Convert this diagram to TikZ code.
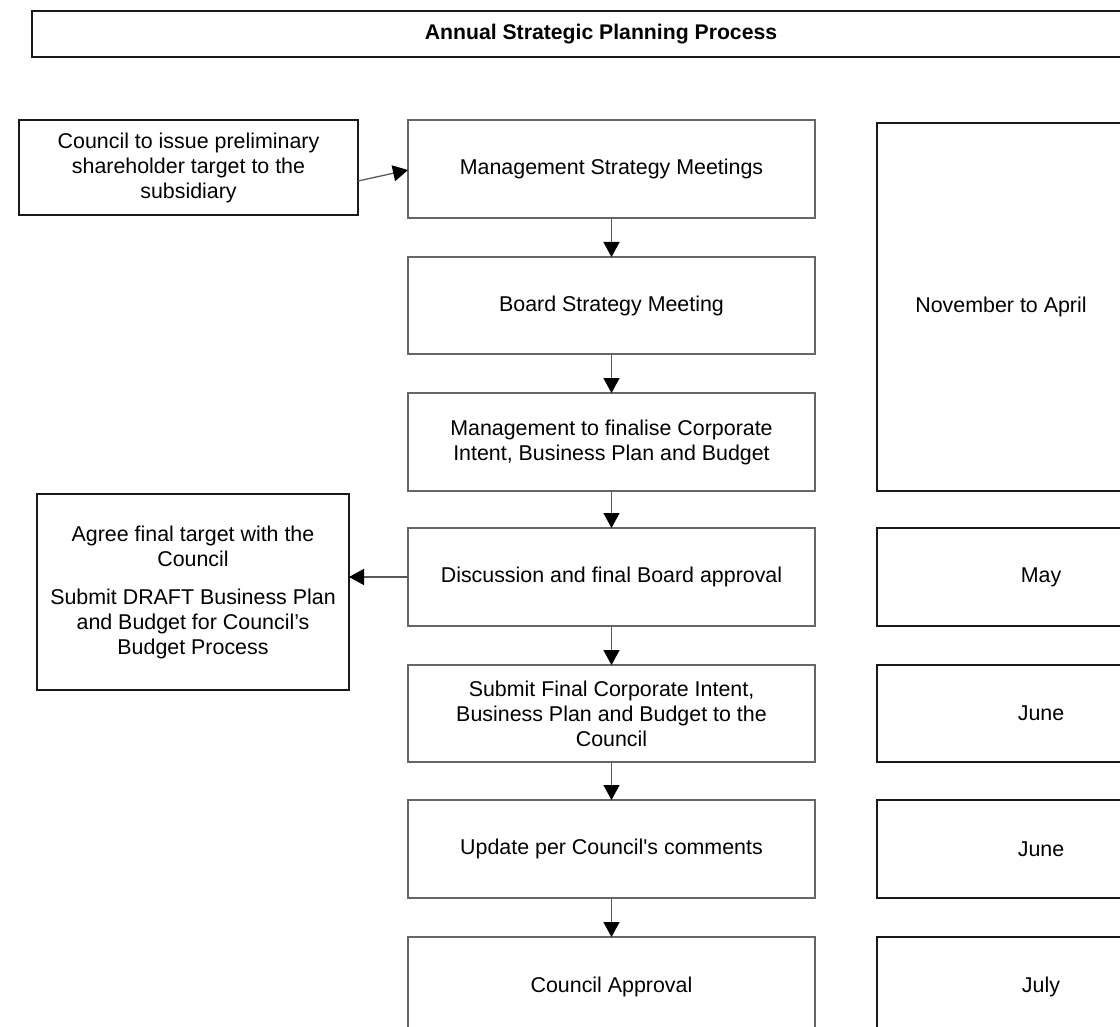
\documentclass[tikz,border=0pt]{standalone}
\usepackage{fontspec}
\setmainfont{Liberation Sans}
\usetikzlibrary{arrows.meta,calc}
\begin{document}
\begin{tikzpicture}[x=1pt,y=-1pt,
  box/.style={draw=black!90,line width=1.3pt,rectangle,inner sep=0pt,outer sep=0pt,align=center,
    font=\fontsize{21.4}{25}\selectfont},
  mbox/.style={box,draw=black!60,minimum width=407pt},
  rbox/.style={box,minimum width=328pt},
  arr/.style={draw=black!65,line width=1.3pt,-{Triangle[length=15pt,width=16pt,color=black]}}]
\useasboundingbox (0,0) rectangle (1120,1027);
\clip (0,0) rectangle (1120,1027);
\node[box,minimum width=1138pt,minimum height=46pt,font=\fontsize{21.2}{26}\selectfont\bfseries] (title) at (601,34) {Annual Strategic Planning Process};
\node[box,minimum width=339pt,minimum height=95pt] (lt) at (188.5,167.5) {Council to issue preliminary\\shareholder target to the\\subsidiary};
\node[mbox,minimum height=98pt] (m1) at (611.5,169) {Management Strategy Meetings};
\node[mbox,minimum height=97pt] (m2) at (611.5,305.5) {Board Strategy Meeting};
\node[mbox,minimum height=98pt] (m3) at (611.5,442) {Management to finalise Corporate\\Intent, Business Plan and Budget};
\node[mbox,minimum height=98pt] (m4) at (611.5,577) {Discussion and final Board approval};
\node[mbox,minimum height=97pt] (m5) at (611.5,713.5) {Submit Final Corporate Intent,\\Business Plan and Budget to the\\Council};
\node[mbox,minimum height=98pt] (m6) at (611.5,849) {Update per Council\textquotesingle s comments};
\node[mbox,minimum height=100pt] (m7) at (611.5,987) {Council Approval};
\node[box,minimum width=312pt,minimum height=196pt] (ag) at (193,592) {Agree final target with the\\Council\\[13pt]Submit DRAFT Business Plan\\and Budget for Council’s\\Budget Process};
\node[box,minimum width=248pt,minimum height=368pt] (r1) at (1001,307) {November to April};
\node[rbox,minimum height=98pt] (r2) at (1041,577) {May};
\node[rbox,minimum height=97pt] (r3) at (1041,713.5) {June};
\node[rbox,minimum height=98pt] (r4) at (1041,849) {June};
\node[rbox,minimum height=100pt] (r5) at (1041,987) {July};
\draw[arr] ($(lt.east)+(0,13.5)$) -- ($(m1.west)+(0,1)$);
\draw[arr] (m4.west) -- (m4.west -| ag.east);
\foreach \a/\b in {m1/m2,m2/m3,m3/m4,m4/m5,m5/m6,m6/m7}
  \draw[arr] (\a.south) -- (\b.north);
\end{tikzpicture}
\end{document}
